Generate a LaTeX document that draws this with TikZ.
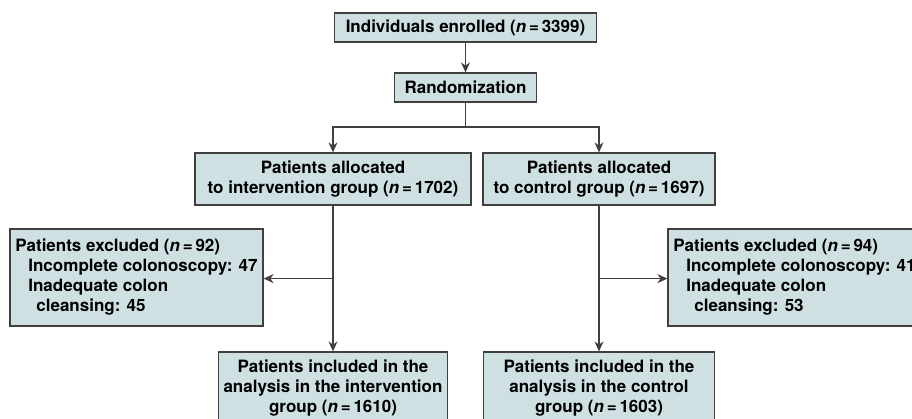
\documentclass[tikz,border=0pt]{standalone}
\usepackage{fontspec}
\setmainfont{TeX Gyre Heros}
\usetikzlibrary{arrows.meta, positioning}
\definecolor{boxfill}{RGB}{207,224,227}
\definecolor{boxline}{RGB}{64,64,64}
\tikzset{
	box/.style={draw=boxline, fill=boxfill, line width=1.2pt, inner sep=0pt, align=center,
		font=\fontsize{17}{20}\selectfont\bfseries},
	exclbox/.style={box, align=left, minimum width=253pt, minimum height=97pt},
	line/.style={draw=boxline, line width=1.2pt, -{Stealth[length=10pt,width=9pt]}}
}
\newcommand{\nval}[1]{(\textit{n}\,=\,#1)}

\begin{document}
\begin{tikzpicture}[x=1pt,y=-1pt]
			\clip (0,0) rectangle (912,419);
			\fill[white] (0,0) rectangle (912,419);
			% Top
			\node[box, minimum width=262pt, minimum height=29pt] (enroll) at (465.5,27.5) {Individuals enrolled \nval{3399}};
			\node[box, minimum width=142pt, minimum height=29pt] (rand) at (465.5,87.5) {Randomization};
			% Allocation
			\node[box, minimum width=276pt, minimum height=52pt] (allocI) at (333,179) {Patients allocated\\to intervention group \nval{1702}};
			\node[box, minimum width=232pt, minimum height=52pt] (allocC) at (599,179) {Patients allocated\\to control group \nval{1697}};
			% Exclusions
			\node[exclbox] (exclI) at (136.5,277.5) {Patients excluded \nval{92}\\
				\hspace*{13pt}Incomplete colonoscopy: 47\\
				\hspace*{13pt}Inadequate colon\\
				\hspace*{21pt}cleansing: 45};
			\node[exclbox] (exclC) at (794.5,277.5) {Patients excluded \nval{94}\\
				\hspace*{13pt}Incomplete colonoscopy: 41\\
				\hspace*{13pt}Inadequate colon\\
				\hspace*{21pt}cleansing: 53};
			% Analysis
			\node[box, minimum width=229pt, minimum height=72pt] (inclI) at (333,388) {Patients included in the\\analysis in the intervention\\group \nval{1610}};
			\node[box, minimum width=231pt, minimum height=72pt] (inclC) at (599,388) {Patients included in the\\analysis in the control\\group \nval{1603}};
			% Connections
			\coordinate (split) at (465.5,127);
			\draw[line] (enroll) -- (rand);
			\draw[line, -] (rand) -- (split);
			\draw[line] (split) -| (allocI);
			\draw[line] (split) -| (allocC);
			\draw[line] (allocI) -- (inclI);
			\draw[line] (allocC) -- (inclC);
			\path (allocI.south) ++(0,73) coordinate (forkI);
			\path (allocC.south) ++(0,73) coordinate (forkC);
			\draw[line] (forkI) -- (forkI -| exclI.east);
			\draw[line] (forkC) -- (forkC -| exclC.west);
		\end{tikzpicture}
\end{document}
